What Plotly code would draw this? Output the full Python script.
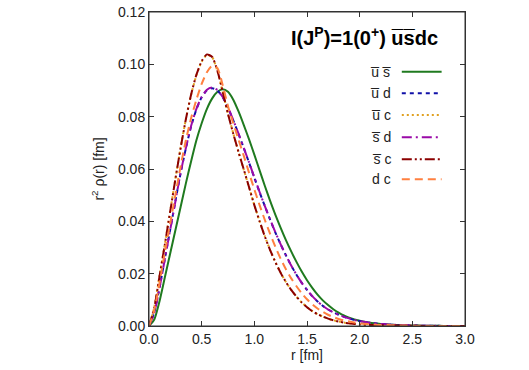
import plotly.graph_objects as go

# radial grid (fm)
r = [0.00, 0.05, 0.10, 0.15, 0.20, 0.25, 0.30, 0.35, 0.40, 0.45,
     0.50, 0.55, 0.60, 0.65, 0.70, 0.75, 0.80, 0.85, 0.90, 0.95,
     1.00, 1.05, 1.10, 1.15, 1.20, 1.25, 1.30, 1.35, 1.40, 1.45,
     1.50, 1.55, 1.60, 1.65, 1.70, 1.75, 1.80, 1.85, 1.90, 1.95,
     2.00, 2.10, 2.20, 2.30, 2.40, 2.50, 2.60, 2.70, 2.80, 2.90, 3.00]

# r^2 rho(r) for each quark pair
ubar_sbar = [0.0, 0.0025, 0.0095, 0.0185, 0.0275, 0.0365, 0.0455, 0.0545, 0.0630, 0.0710,
             0.0775, 0.0830, 0.0870, 0.0895, 0.0905, 0.0895, 0.0865, 0.0820, 0.0768, 0.0713,
             0.0655, 0.0595, 0.0535, 0.0478, 0.0425, 0.0375, 0.0328, 0.0285, 0.0245, 0.0208,
             0.0175, 0.0146, 0.0120, 0.0098, 0.0080, 0.0064, 0.0051, 0.0040, 0.0032, 0.0025,
             0.0020, 0.0012, 0.0008, 0.0005, 0.0003, 0.0002, 0.0001, 0.0001, 0.0, 0.0, 0.0]
ubar_d = [0.0, 0.0052, 0.0147, 0.0256, 0.0366, 0.0476, 0.0584, 0.0679, 0.0763, 0.0828,
          0.0874, 0.0901, 0.0909, 0.0900, 0.0874, 0.0834, 0.0786, 0.0734, 0.0680, 0.0624,
          0.0567, 0.0511, 0.0458, 0.0406, 0.0357, 0.0312, 0.0270, 0.0231, 0.0196, 0.0165,
          0.0138, 0.0114, 0.0094, 0.0077, 0.0063, 0.0052, 0.0043, 0.0035, 0.0029, 0.0023,
          0.0019, 0.0012, 0.0008, 0.0005, 0.0003, 0.0002, 0.0001, 0.0001, 0.0, 0.0, 0.0]
ubar_c = [0.0, 0.0071, 0.0192, 0.0312, 0.0436, 0.0561, 0.0681, 0.0791, 0.0884, 0.0958,
          0.1010, 0.1036, 0.1027, 0.0974, 0.0894, 0.0811, 0.0736, 0.0664, 0.0597, 0.0530,
          0.0462, 0.0401, 0.0343, 0.0290, 0.0244, 0.0203, 0.0168, 0.0138, 0.0112, 0.0090,
          0.0072, 0.0057, 0.0045, 0.0036, 0.0028, 0.0022, 0.0017, 0.0013, 0.0010, 0.0008,
          0.0006, 0.0004, 0.0003, 0.0002, 0.0001, 0.0001, 0.0, 0.0, 0.0, 0.0, 0.0]
sbar_d = [0.0, 0.0050, 0.0145, 0.0255, 0.0365, 0.0475, 0.0585, 0.0680, 0.0765, 0.0830,
          0.0875, 0.0903, 0.0912, 0.0902, 0.0875, 0.0835, 0.0787, 0.0735, 0.0680, 0.0625,
          0.0568, 0.0512, 0.0458, 0.0407, 0.0358, 0.0312, 0.0270, 0.0231, 0.0196, 0.0165,
          0.0138, 0.0114, 0.0094, 0.0077, 0.0063, 0.0052, 0.0043, 0.0035, 0.0029, 0.0023,
          0.0019, 0.0012, 0.0008, 0.0005, 0.0003, 0.0002, 0.0001, 0.0001, 0.0, 0.0, 0.0]
sbar_c = [0.0, 0.0070, 0.0190, 0.0310, 0.0435, 0.0560, 0.0680, 0.0790, 0.0885, 0.0960,
          0.1012, 0.1038, 0.1028, 0.0975, 0.0895, 0.0810, 0.0735, 0.0665, 0.0598, 0.0530,
          0.0462, 0.0400, 0.0342, 0.0290, 0.0244, 0.0203, 0.0168, 0.0138, 0.0112, 0.0090,
          0.0072, 0.0057, 0.0045, 0.0036, 0.0028, 0.0022, 0.0017, 0.0013, 0.0010, 0.0008,
          0.0006, 0.0004, 0.0003, 0.0002, 0.0001, 0.0001, 0.0, 0.0, 0.0, 0.0, 0.0]
d_c = [0.0, 0.0060, 0.0165, 0.0280, 0.0390, 0.0500, 0.0610, 0.0710, 0.0795, 0.0865,
       0.0925, 0.0970, 0.0995, 0.0985, 0.0920, 0.0840, 0.0775, 0.0712, 0.0650, 0.0585,
       0.0522, 0.0462, 0.0405, 0.0352, 0.0302, 0.0257, 0.0217, 0.0182, 0.0152, 0.0125,
       0.0102, 0.0083, 0.0067, 0.0054, 0.0043, 0.0034, 0.0027, 0.0021, 0.0017, 0.0013,
       0.0010, 0.0007, 0.0004, 0.0003, 0.0002, 0.0001, 0.0, 0.0, 0.0, 0.0, 0.0]

labels = ["u\u0305 s\u0305", "u\u0305 d", "u\u0305 c", "s\u0305 d", "s\u0305 c", "d c"]
series = [ubar_sbar, ubar_d, ubar_c, sbar_d, sbar_c, d_c]
colors = ["#1f7a1f", "#1010a8", "#e0a020", "#9a0aa8", "#8b0000", "#ff8040"]
dashes = ["solid", "4px,4px", "2px,3px", "10px,4px,2px,4px",
          "10px,3px,2px,3px,2px,3px", "8px,5px"]

FONT = "Liberation Sans, Arial, sans-serif"

fig = go.Figure()

for ys, col, dsh, lab in zip(series, colors, dashes, labels):
    fig.add_trace(go.Scatter(
        x=r, y=ys, mode="lines", name=lab, showlegend=False,
        line=dict(color=col, width=2, dash=dsh, shape="spline", smoothing=0.6),
    ))

# key in the gnuplot style: label on the left, line sample on the right
row_y = [0.810, 0.741, 0.672, 0.601, 0.531, 0.467]
for yy, col, dsh, lab in zip(row_y, colors, dashes, labels):
    fig.add_annotation(
        x=0.772, y=yy, xref="paper", yref="paper", text=lab, showarrow=False,
        xanchor="right", yanchor="middle", font=dict(family=FONT, size=14, color="#222"),
    )
    fig.add_shape(
        type="line", xref="paper", yref="paper", x0=0.80, x1=0.926, y0=yy, y1=yy,
        line=dict(color=col, width=2, dash=dsh),
    )

fig.add_annotation(
    x=0.922, y=0.921, xref="paper", yref="paper", showarrow=False,
    xanchor="right", yanchor="middle",
    text="<b>I(J<sup>P</sup>)=1(0<sup>+</sup>) u\u0305s\u0305dc</b>",
    font=dict(family=FONT, size=20, color="black"),
)

# plot frame
fig.add_shape(type="rect", xref="paper", yref="paper", x0=0, x1=1, y0=0, y1=1,
              line=dict(color="#333", width=1), layer="above")

axis_common = dict(
    showline=True, linecolor="#333", linewidth=1, mirror="ticks",
    ticks="inside", ticklen=5, tickcolor="#333", showgrid=False, zeroline=False,
    tickfont=dict(family=FONT, size=14, color="#222"), automargin=False,
    ticklabeloverflow="allow",
)

fig.update_xaxes(range=[0, 3.0], dtick=0.5, tickformat=".1f",
                 title=dict(text="r [fm]", standoff=4,
                            font=dict(family=FONT, size=14, color="#222")),
                 **axis_common)
fig.update_yaxes(range=[0, 0.12], dtick=0.02, tickformat=".2f",
                 title=dict(text="r<sup>2</sup> \u03c1(r) [fm]", standoff=10,
                            font=dict(family=FONT, size=14, color="#222")),
                 **axis_common)

fig.update_layout(
    width=529, height=370,
    margin=dict(l=149, r=64, t=12, b=44),
    plot_bgcolor="white", paper_bgcolor="white",
    showlegend=False,
)

# drop the default page margin so the figure sits at the window corner
fig.write_html("out.html", config={"displayModeBar": False},
               post_script="document.body.style.margin='0';")
